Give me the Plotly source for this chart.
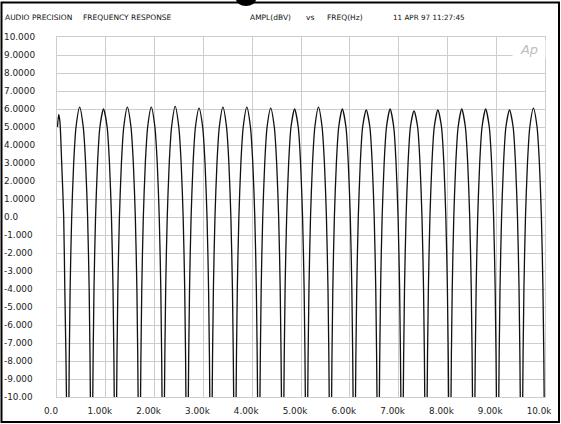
import plotly.graph_objects as go

# ---- data ----
freq_hz = [
    10, 35, 60, 96, 137, 160, 194, 219,
    244, 269, 301, 342, 390, 464, 538, 586, 627, 659, 684, 708,
    733, 758, 790, 831, 879, 953, 1027, 1075, 1116, 1148, 1173, 1198,
    1222, 1247, 1279, 1320, 1368, 1442, 1516, 1564, 1605, 1637, 1662, 1687,
    1712, 1737, 1769, 1810, 1858, 1932, 2006, 2054, 2095, 2127, 2152, 2177,
    2202, 2227, 2259, 2300, 2348, 2422, 2496, 2544, 2585, 2617, 2642, 2666,
    2691, 2716, 2748, 2789, 2837, 2911, 2985, 3033, 3074, 3106, 3131, 3155,
    3180, 3205, 3237, 3278, 3326, 3400, 3474, 3522, 3563, 3595, 3620, 3645,
    3670, 3695, 3727, 3768, 3816, 3890, 3964, 4012, 4053, 4085, 4110, 4134,
    4159, 4184, 4216, 4257, 4305, 4379, 4453, 4501, 4542, 4574, 4599, 4624,
    4649, 4674, 4706, 4747, 4795, 4869, 4943, 4991, 5032, 5064, 5089, 5113,
    5138, 5163, 5195, 5236, 5284, 5358, 5432, 5480, 5521, 5553, 5578, 5602,
    5627, 5652, 5684, 5725, 5773, 5847, 5921, 5969, 6010, 6042, 6067, 6092,
    6117, 6142, 6174, 6215, 6263, 6337, 6411, 6459, 6500, 6532, 6557, 6581,
    6606, 6631, 6663, 6704, 6752, 6826, 6900, 6948, 6989, 7021, 7046, 7071,
    7096, 7121, 7153, 7194, 7242, 7316, 7390, 7438, 7479, 7511, 7536, 7560,
    7585, 7610, 7642, 7683, 7731, 7805, 7879, 7927, 7968, 8000, 8025, 8049,
    8074, 8099, 8131, 8172, 8220, 8294, 8368, 8416, 8457, 8489, 8514, 8539,
    8564, 8589, 8621, 8662, 8710, 8784, 8858, 8906, 8947, 8979, 9004, 9028,
    9053, 9078, 9110, 9151, 9199, 9273, 9347, 9395, 9436, 9468, 9493, 9518,
    9543, 9568, 9600, 9641, 9689, 9763, 9837, 9885, 9926, 9958, 9983, 10000,
]
ampl_dbv = [
    5.0, 5.7, 5.3, 3.0, 0.0, -4.0, -10.0, -40.0,
    -10, -4, 0, 3, 5, 6.10, 5, 3, 0, -4, -10, -40,
    -10, -4, 0, 3, 5, 6.00, 5, 3, 0, -4, -10, -40,
    -10, -4, 0, 3, 5, 6.10, 5, 3, 0, -4, -10, -40,
    -10, -4, 0, 3, 5, 6.10, 5, 3, 0, -4, -10, -40,
    -10, -4, 0, 3, 5, 6.15, 5, 3, 0, -4, -10, -40,
    -10, -4, 0, 3, 5, 6.05, 5, 3, 0, -4, -10, -40,
    -10, -4, 0, 3, 5, 6.10, 5, 3, 0, -4, -10, -40,
    -10, -4, 0, 3, 5, 6.10, 5, 3, 0, -4, -10, -40,
    -10, -4, 0, 3, 5, 6.05, 5, 3, 0, -4, -10, -40,
    -10, -4, 0, 3, 5, 6.00, 5, 3, 0, -4, -10, -40,
    -10, -4, 0, 3, 5, 6.10, 5, 3, 0, -4, -10, -40,
    -10, -4, 0, 3, 5, 6.00, 5, 3, 0, -4, -10, -40,
    -10, -4, 0, 3, 5, 5.95, 5, 3, 0, -4, -10, -40,
    -10, -4, 0, 3, 5, 6.00, 5, 3, 0, -4, -10, -40,
    -10, -4, 0, 3, 5, 5.90, 5, 3, 0, -4, -10, -40,
    -10, -4, 0, 3, 5, 5.95, 5, 3, 0, -4, -10, -40,
    -10, -4, 0, 3, 5, 6.00, 5, 3, 0, -4, -10, -40,
    -10, -4, 0, 3, 5, 6.00, 5, 3, 0, -4, -10, -40,
    -10, -4, 0, 3, 5, 5.95, 5, 3, 0, -4, -10, -40,
    -10, -4, 0, 3, 5, 6.05, 5, 3, 0, -4, -10, -40,
]

x_tick_vals = [0, 1000, 2000, 3000, 4000, 5000, 6000, 7000, 8000, 9000, 10000]
x_tick_text = ["0.0", "1.00k", "2.00k", "3.00k", "4.00k", "5.00k",
               "6.00k", "7.00k", "8.00k", "9.00k", "10.0k"]
y_tick_vals = [10, 9, 8, 7, 6, 5, 4, 3, 2, 1, 0,
               -1, -2, -3, -4, -5, -6, -7, -8, -9, -10]
y_tick_text = ["10.000", "9.0000", "8.0000", "7.0000", "6.0000", "5.0000",
               "4.0000", "3.0000", "2.0000", "1.0000", "0.0",
               "-1.000", "-2.000", "-3.000", "-4.000", "-5.000",
               "-6.000", "-7.000", "-8.000", "-9.000", "-10.00"]

header_texts = ["AUDIO PRECISION", "FREQUENCY RESPONSE", "AMPL(dBV)",
                "vs", "FREQ(Hz)", "11 APR 97 11:27:45"]

# ---- layout geometry (pixels) ----
W, H = 561, 424
L, R, T, B = 57, 16, 37, 27
PW, PH = W - L - R, H - T - B


def px(xp):
    return (xp - L) / PW


def py(yp):
    return (H - B - yp) / PH


FONT = "DejaVu Sans"
GRID = "#cdcdcd"

fig = go.Figure()
fig.add_trace(go.Scatter(
    x=freq_hz, y=ampl_dbv, mode="lines",
    line=dict(color="#111111", width=1.3, shape="spline", smoothing=0.7),
    hoverinfo="skip", showlegend=False,
))

annotations = []
# y tick labels, left aligned like the original
for v, t in zip(y_tick_vals, y_tick_text):
    annotations.append(dict(
        x=px(2), xref="paper", y=v, yref="y", text=t, showarrow=False,
        xanchor="left", yanchor="middle",
        font=dict(family=FONT, size=8.9, color="#222222"),
    ))

header_x = [3, 81, 248, 304, 325, 391]
header_size = [7.5, 7.5, 7.5, 7.5, 7.5, 7.2]
for xp, t, s in zip(header_x, header_texts, header_size):
    annotations.append(dict(
        x=px(xp), xref="paper", y=py(18), yref="paper", text=t,
        showarrow=False, xanchor="left", yanchor="middle",
        font=dict(family=FONT, size=s, color="#111111"),
    ))

# Ap logo
annotations.append(dict(
    x=px(529), xref="paper", y=py(49), yref="paper",
    text="<i>Ap</i>", showarrow=False, xanchor="center", yanchor="middle",
    font=dict(family=FONT, size=13, color="#bdbdbd"),
    bgcolor="white", borderpad=1, width=30,
))

shapes = [
    # outer black frame
    dict(type="rect", xref="paper", yref="paper",
         x0=px(1.5), x1=px(559), y0=py(422), y1=py(2.5),
         line=dict(color="black", width=2), layer="above"),
    # partial glyph cut off at the top
    dict(type="circle", xref="paper", yref="paper",
         x0=px(236), x1=px(256), y0=py(6), y1=py(-8),
         fillcolor="black", line=dict(color="black", width=0), layer="above"),
]

fig.update_layout(
    width=W, height=H, autosize=False,
    margin=dict(l=L, r=R, t=T, b=B, pad=0, autoexpand=False),
    paper_bgcolor="white", plot_bgcolor="white",
    annotations=annotations, shapes=shapes,
    xaxis=dict(
        range=[0, 10000], tickvals=x_tick_vals, ticktext=x_tick_text,
        showgrid=True, gridcolor=GRID, gridwidth=1, zeroline=False,
        showline=True, linecolor=GRID, linewidth=1, mirror=True,
        ticks="", ticklabelstandoff=5, ticklabelshift=-6,
        tickfont=dict(family=FONT, size=8.8, color="#222222"),
        fixedrange=True, automargin=False,
    ),
    yaxis=dict(
        range=[-10, 10], tickvals=y_tick_vals, showticklabels=False,
        showgrid=True, gridcolor=GRID, gridwidth=1, zeroline=False,
        showline=True, linecolor=GRID, linewidth=1, mirror=True,
        ticks="", fixedrange=True, automargin=False,
    ),
)

fig.write_html(
    "out.html",
    config={"displayModeBar": False},
    post_script="document.body.style.margin='0';document.body.style.overflow='hidden';",
)
